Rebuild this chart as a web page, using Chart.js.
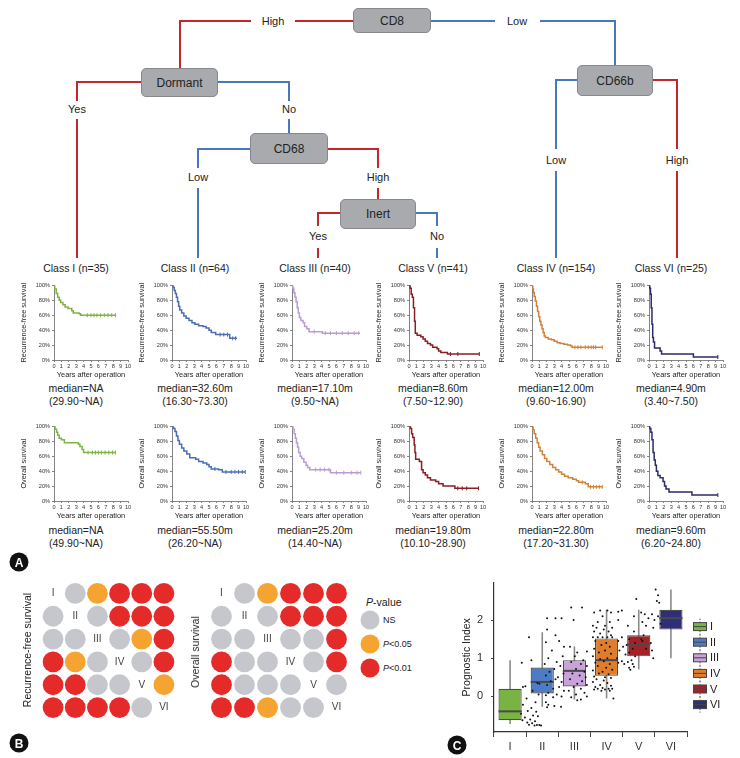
<!DOCTYPE html>
<html>
<head>
<meta charset="utf-8">
<script src="https://cdn.jsdelivr.net/npm/chart.js@4.4.0/dist/chart.umd.min.js"></script>
<style>
  body { margin: 0; background: #fff; width: 740px; height: 758px; position: relative; overflow: hidden;
         font-family: "Liberation Sans", Arial, sans-serif; color: #222; }
  canvas { position: absolute; }
  .node { position: absolute; background: #a8aaae; border: 1px solid #86888c; border-radius: 5px; box-sizing: border-box;
          display: flex; align-items: center; justify-content: center; font-size: 12px; color: #222;
          font-family: "Liberation Sans Narrow", "Liberation Sans", sans-serif; }
  .lbl { position: absolute; transform: translate(-50%, -50%); white-space: nowrap; font-size: 11px;
         font-family: "Liberation Sans Narrow", "Liberation Sans", sans-serif; }
  .cls { position: absolute; transform: translate(-50%, -50%); white-space: nowrap; font-size: 10.5px; }
  .med { position: absolute; transform: translateX(-50%); text-align: center; font-size: 10.5px; line-height: 12.5px; white-space: nowrap; }
  .rot { position: absolute; transform: translate(-50%, -50%) rotate(-90deg); white-space: nowrap; font-size: 10.5px; }
  .badge { position: absolute; width: 19px; height: 19px; border-radius: 50%; background: #111; color: #fff; font-weight: bold;
           font-size: 12px; display: flex; align-items: center; justify-content: center; transform: translate(-50%, -50%); }
  .leg { position: absolute; font-size: 9px; transform: translateY(-50%); white-space: nowrap; }
  .dot { position: absolute; width: 19px; height: 19px; border-radius: 50%; transform: translate(-50%, -50%); }
</style>
</head>
<body>
<script>
// ---- data ----
const classNames = ['Class I (n=35)', 'Class II (n=64)', 'Class III (n=40)', 'Class V (n=41)', 'Class IV (n=154)', 'Class VI (n=25)'];
const classColors = ['#7fb342', '#4a6db3', '#b99dd0', '#8c1d22', '#d0823a', '#2c2a6a'];

const rfsMedian = ['median=NA', 'median=32.60m', 'median=17.10m', 'median=8.60m', 'median=12.00m', 'median=4.90m'];
const rfsCI = ['(29.90~NA)', '(16.30~73.30)', '(9.50~NA)', '(7.50~12.90)', '(9.60~16.90)', '(3.40~7.50)'];
const osMedian = ['median=NA', 'median=55.50m', 'median=25.20m', 'median=19.80m', 'median=22.80m', 'median=9.60m'];
const osCI = ['(49.90~NA)', '(26.20~NA)', '(14.40~NA)', '(10.10~28.90)', '(17.20~31.30)', '(6.20~24.80)'];

// [years, survival %]
const rfsI = [[0,100],[0.1,95],[0.3,89],[0.5,84],[0.7,80],[0.9,77],[1.2,74],[1.5,71],[1.9,69],[2.4,66],[2.6,63],[3.4,62],[3.6,60],[8.3,60]];
const rfsII = [[0,100],[0.15,97],[0.3,93],[0.45,89],[0.6,84],[0.75,78],[0.9,72],[1.05,67],[1.3,63],[1.6,59],[1.9,56],[2.3,53],[2.7,50],[3.1,48],[3.6,46],[4.2,45],[4.6,43],[5.0,40],[5.3,37],[5.9,34],[7.8,29],[8.8,29]];
const rfsIII = [[0,100],[0.1,96],[0.25,90],[0.4,84],[0.55,78],[0.7,70],[0.85,63],[1.0,57],[1.2,53],[1.5,50],[1.7,45],[2.0,42],[2.3,38],[4.1,36],[9.2,36]];
const rfsV = [[0,100],[0.15,96],[0.3,88],[0.45,84],[0.6,70],[0.75,52],[0.85,36],[1.1,33],[1.6,31],[1.9,28],[2.2,25],[2.5,22],[2.9,20],[3.2,17],[3.8,15],[4.0,12],[4.3,10],[5.2,8],[9.5,8]];
const rfsIV = [[0,100],[0.1,95],[0.2,90],[0.3,85],[0.45,79],[0.6,72],[0.75,65],[0.9,58],[1.05,52],[1.2,47],[1.35,42],[1.5,37],[1.65,32],[1.8,30],[2.2,28],[2.6,27],[3.0,25],[3.4,23],[3.8,22],[4.3,21],[4.8,20],[5.2,19],[5.4,17],[9.5,17]];
const rfsVI = [[0,100],[0.1,96],[0.2,88],[0.3,70],[0.4,48],[0.5,30],[0.6,24],[0.75,16],[1.5,12],[1.7,8],[6.0,4],[9.3,4]];

const osI = [[0,100],[0.15,96],[0.35,92],[0.5,88],[0.7,84],[1.0,82],[1.4,78],[3.3,76],[3.5,73],[3.8,69],[4.0,65],[8.3,65]];
const osII = [[0,100],[0.2,97],[0.4,93],[0.6,87],[0.8,81],[1.0,76],[1.3,71],[1.6,67],[2.0,63],[2.4,58],[3.2,56],[3.6,53],[4.2,51],[4.7,49],[5.0,46],[5.3,43],[6.3,42],[6.8,39],[9.9,39]];
const osIII = [[0,100],[0.15,96],[0.3,90],[0.45,84],[0.6,78],[0.75,72],[0.9,65],[1.1,60],[1.3,57],[1.6,52],[1.9,48],[2.1,45],[2.4,42],[5.2,38],[9.3,38]];
const osV = [[0,100],[0.2,97],[0.35,90],[0.5,85],[0.7,75],[0.8,65],[0.9,56],[1.4,53],[1.7,42],[1.9,38],[2.2,35],[2.5,31],[2.9,28],[3.6,26],[4.0,23],[4.6,20],[6.2,17],[9.4,17]];
const osIV = [[0,100],[0.15,95],[0.3,90],[0.5,84],[0.7,78],[0.9,72],[1.1,67],[1.4,62],[1.7,57],[2.0,53],[2.4,49],[2.8,45],[3.2,42],[3.6,39],[4.0,36],[4.4,33],[4.9,31],[5.5,29],[6.0,27],[6.3,25],[7.2,23],[7.6,19],[9.5,19]];
const osVI = [[0,100],[0.1,97],[0.25,92],[0.4,82],[0.55,65],[0.7,55],[0.85,48],[1.0,40],[1.2,34],[1.5,31],[1.9,26],[2.1,20],[2.3,16],[2.7,12],[5.8,8],[9.3,8]];

// censored times (years)
const rfsCensor = [[4.5,5.0,5.4,5.8,6.3,6.8,7.3,7.8,8.3], [6.5,7.0,7.5,8.2,8.6], [3.0,4.5,5.2,6.0,6.8,7.6,8.4,9.0], [5.6,6.6,9.5], [5.8,6.2,6.6,7.2,7.6,8.0,8.3,8.6,9.5], [9.3]];
const osCensor = [[4.6,5.2,5.6,6.0,6.4,6.9,7.4,7.9,8.3], [5.8,7.3,8.0,8.5,9.0,9.5,9.9], [3.2,3.8,4.4,5.0,6.0,7.0,8.0,8.8,9.3], [6.6,7.2,7.8,9.4], [6.8,7.9,8.3,8.7,9.1,9.5], [9.3]];

// pairwise p-value matrices: n = NS, o = P<0.05, r = P<0.01, '' = diagonal
const romans = ['I', 'II', 'III', 'IV', 'V', 'VI'];
const rfsMatrix = [
  ['', 'n', 'o', 'r', 'r', 'r'],
  ['n', '', 'n', 'r', 'r', 'r'],
  ['n', 'n', '', 'n', 'o', 'r'],
  ['r', 'o', 'n', '', 'n', 'r'],
  ['r', 'r', 'n', 'n', '', 'o'],
  ['r', 'r', 'r', 'r', 'n', '']
];
const osMatrix = [
  ['', 'n', 'o', 'r', 'r', 'r'],
  ['n', '', 'n', 'r', 'r', 'r'],
  ['n', 'n', '', 'n', 'n', 'r'],
  ['r', 'n', 'n', '', 'n', 'r'],
  ['r', 'n', 'n', 'n', '', 'n'],
  ['r', 'r', 'o', 'n', 'n', '']
];

// prognostic index box plot (classes I..VI)
const boxColors = ['#79b443', '#4d7cc7', '#c9a2d9', '#e07d2c', '#a3222a', '#2f2e78'];
const boxLow = [-0.72, -0.27, -0.08, -0.05, 0.71, 1.0];
const boxQ1 = [-0.62, 0.08, 0.26, 0.54, 1.05, 1.75];
const boxMed = [-0.39, 0.38, 0.67, 0.95, 1.36, 2.05];
const boxQ3 = [0.2, 0.76, 0.95, 1.52, 1.6, 2.27];
const boxHigh = [0.95, 1.68, 1.31, 2.27, 2.27, 2.8];

// [jitter, index value]
const piI = [[-0.05,1.55],[-0.35,0.88],[0.05,0.95],[0.3,0.35],[0.38,0.33],[-0.3,0.25],[-0.2,0.27],[0.1,0.15],[0.35,0.05],[-0.15,-0.05],[0.22,-0.15],[-0.3,-0.22],[0.05,-0.3],[-0.1,-0.38],[0.25,-0.4],[-0.38,-0.45],[0.12,-0.5],[-0.22,-0.55],[0.32,-0.52],[0.0,-0.6],[-0.32,-0.62],[0.2,-0.65],[-0.12,-0.68],[0.08,-0.7],[0.28,-0.75],[0.38,-0.75],[0.18,-0.76],[-0.05,-0.74],[0.45,-0.76]];
const piII = [[-0.3,2.05],[0.05,2.05],[0.3,2.05],[-0.3,1.75],[0.05,1.6],[-0.35,1.42],[0.2,1.45],[0.4,1.3],[-0.1,1.2],[0.35,1.05],[-0.25,1.0],[0.1,0.9],[-0.4,0.85],[0.25,0.8],[0.0,0.72],[-0.2,0.65],[0.38,0.6],[-0.35,0.55],[0.15,0.5],[0.05,0.45],[-0.15,0.4],[0.3,0.38],[-0.3,0.3],[0.2,0.25],[-0.05,0.2],[0.4,0.15],[-0.25,0.1],[0.1,0.05],[0.3,0.0],[-0.35,0.03],[-0.05,-0.02],[-0.35,-0.15],[-0.25,-0.22],[-0.3,-0.28],[0.0,-0.25],[0.28,-0.27]];
const piIII = [[-0.3,2.33],[0.15,2.33],[-0.2,2.0],[-0.35,1.3],[-0.05,1.15],[0.35,1.18],[-0.15,1.05],[0.2,0.95],[-0.3,0.9],[0.1,0.85],[0.35,0.8],[-0.1,0.72],[0.25,0.65],[-0.25,0.6],[0.05,0.55],[0.3,0.5],[-0.35,0.45],[0.15,0.4],[-0.05,0.33],[0.35,0.3],[-0.2,0.25],[0.1,0.2],[-0.4,0.15],[0.25,0.1],[-0.1,0.05],[0.35,0.0],[-0.3,-0.02],[0.1,-0.08],[-0.05,-0.1]];
const piIV = [[-0.1,2.25],[0.2,2.25],[0.35,2.2],[-0.35,2.2],[0.0,2.1],[-0.2,1.95],[0.3,1.95],[-0.4,1.85],[0.1,1.85],[0.4,1.8],[-0.25,1.8],[0.05,1.75],[-0.35,1.7],[0.25,1.7],[-0.1,1.65],[0.35,1.6],[-0.4,1.55],[-0.2,1.55],[0.0,1.55],[0.2,1.55],[0.4,1.55],[-0.3,1.45],[0.15,1.4],[-0.05,1.35],[0.3,1.3],[-0.35,1.25],[0.1,1.2],[-0.15,1.15],[0.35,1.12],[-0.4,1.05],[0.2,1.0],[-0.1,0.98],[0.05,0.92],[-0.3,0.88],[0.3,0.85],[-0.2,0.8],[0.15,0.75],[0.4,0.7],[-0.4,0.68],[0.0,0.65],[-0.15,0.6],[0.25,0.58],[-0.35,0.52],[0.1,0.5],[0.35,0.48],[-0.25,0.45],[0.05,0.42],[-0.4,0.38],[0.2,0.35],[-0.1,0.3],[0.35,0.28],[-0.3,0.25],[0.0,0.22],[0.25,0.2],[-0.35,0.18],[-0.2,0.2],[0.1,0.18],[0.4,0.2],[-0.05,0.15],[0.3,0.15],[0.45,-0.05]];
const piV = [[-0.35,2.22],[-0.2,2.25],[0.4,2.55],[0.3,2.1],[-0.35,2.0],[0.05,1.85],[0.3,1.7],[-0.2,1.55],[0.1,1.5],[-0.35,1.45],[0.35,1.4],[0.0,1.35],[-0.15,1.3],[0.25,1.25],[-0.3,1.2],[0.1,1.15],[-0.05,1.1],[0.35,1.05],[-0.4,1.0],[0.2,0.95],[-0.2,0.92],[0.05,0.9],[-0.35,0.88],[0.25,0.85],[-0.1,0.85],[0.3,0.78],[0.1,0.75],[0.15,0.7]];
const piVI = [[0.2,2.8],[0.3,2.65],[0.25,2.5],[0.35,2.45],[-0.4,2.2],[-0.25,2.15],[0.05,2.15],[0.3,2.1],[-0.1,2.05],[0.15,2.0],[-0.35,1.95],[0.4,1.9],[-0.2,1.85],[0.1,1.8],[-0.3,1.6],[-0.4,1.5],[-0.35,1.45],[0.0,1.4],[-0.2,1.25],[0.05,1.2],[0.1,1.0]];

// ---- helpers ----
Chart.defaults.font.family = '"Liberation Sans", Arial, sans-serif';
Chart.defaults.color = '#222';

const RED = '#c1272d';
const BLUE = '#4a76be';

function el(cls, html, style) {
  const d = document.createElement('div');
  d.className = cls;
  d.innerHTML = html;
  Object.assign(d.style, style);
  document.body.appendChild(d);
  return d;
}
function hline(x1, x2, y, c) {
  el('', '', { position: 'absolute', left: x1 + 'px', top: (y - 1) + 'px', width: (x2 - x1) + 'px', height: '2px', background: c });
}
function vline(x, y1, y2, c) {
  el('', '', { position: 'absolute', left: (x - 1) + 'px', top: (y1 - 1) + 'px', width: '2px', height: (y2 - y1 + 2) + 'px', background: c });
}
function node(text, x, y, w, h) {
  el('node', text, { left: x + 'px', top: y + 'px', width: w + 'px', height: h + 'px' });
}
function label(text, x, y) {
  el('lbl', text, { left: x + 'px', top: y + 'px' });
}

// ---- decision tree ----
hline(180, 251, 21, RED); hline(295, 353, 21, RED); vline(180, 21, 68, RED);
hline(431, 495, 21, BLUE); hline(540, 615, 21, BLUE); vline(615, 21, 65, BLUE);
hline(77, 141, 82, RED); vline(77, 82, 100, RED); vline(77, 120, 257, RED);
hline(218, 289, 82, BLUE); vline(289, 82, 100, BLUE); vline(289, 120, 133, BLUE);
hline(198, 250, 149, BLUE); vline(198, 149, 167, BLUE); vline(198, 189, 257, BLUE);
hline(328, 378, 149, RED); vline(378, 149, 167, RED); vline(378, 189, 199, RED);
hline(318, 340, 213, RED); vline(318, 213, 225, RED); vline(318, 249, 257, RED);
hline(416, 437, 213, BLUE); vline(437, 213, 225, BLUE); vline(437, 249, 257, BLUE);
hline(556, 577, 80, BLUE); vline(556, 80, 148, BLUE); vline(556, 172, 257, BLUE);
hline(653, 677, 80, RED); vline(677, 80, 148, RED); vline(677, 172, 257, RED);

node('CD8', 353, 8, 78, 25);
node('Dormant', 141, 68, 77, 29);
node('CD68', 250, 133, 78, 31);
node('Inert', 340, 199, 76, 30);
node('CD66b', 577, 65, 76, 31);

label('High', 273, 21); label('Low', 517, 21);
label('Yes', 77, 109); label('No', 289, 109);
label('Low', 198, 177); label('High', 378, 177);
label('Yes', 318, 236); label('No', 437, 236);
label('Low', 556, 160); label('High', 677, 160);

// ---- Kaplan-Meier panels ----
const axisX = [54, 172, 292, 409, 532, 649];
const textX = [76, 195, 315, 433, 556, 671];
const rfsCurves = [rfsI, rfsII, rfsIII, rfsV, rfsIV, rfsVI];
const osCurves = [osI, osII, osIII, osV, osIV, osVI];

function stepAt(curve, t) {
  let v = curve[0][1];
  curve.forEach(p => { if (p[0] <= t) v = p[1]; });
  return v;
}

function kmChart(left, top, curve, censor, color, yTitle) {
  const cv = document.createElement('canvas');
  cv.width = 114;
  cv.height = 99;
  cv.style.left = (left - 34) + 'px';
  cv.style.top = (top - 4) + 'px';
  document.body.appendChild(cv);
  const axisStyle = { drawOnChartArea: false, tickLength: 2, color: '#666', lineWidth: 0.8 };
  new Chart(cv, {
    type: 'scatter',
    data: {
      datasets: [
        {
          type: 'line',
          data: curve.map(p => ({ x: p[0], y: p[1] })),
          stepped: true,
          borderColor: color,
          borderWidth: 1.5,
          pointRadius: 0,
          fill: false
        },
        {
          data: censor.map(t => ({ x: t, y: stepAt(curve, t) })),
          pointStyle: 'line',
          rotation: 90,
          pointRadius: 2,
          borderColor: color,
          borderWidth: 1
        }
      ]
    },
    options: {
      responsive: false,
      animation: false,
      events: [],
      layout: { padding: { top: 4, right: 6, left: 0, bottom: 0 } },
      plugins: { legend: { display: false }, tooltip: { enabled: false } },
      scales: {
        x: {
          type: 'linear', min: 0, max: 10,
          afterFit: s => { s.height = 19; },
          ticks: { stepSize: 1, font: { size: 5.6 }, color: '#333', padding: 1, maxRotation: 0, autoSkip: false },
          grid: axisStyle,
          border: { color: '#666', width: 0.8 },
          title: { display: true, text: 'Years after operation', font: { size: 7.4 }, color: '#222', padding: 0 }
        },
        y: {
          min: 0, max: 100,
          afterFit: s => { s.width = 34; },
          ticks: { stepSize: 20, callback: v => v + '%', font: { size: 5.6 }, color: '#333', padding: 2 },
          grid: axisStyle,
          border: { color: '#666', width: 0.8 },
          title: { display: true, text: yTitle, font: { size: 7.3 }, color: '#222', padding: 0 }
        }
      }
    }
  });
}

for (let i = 0; i < 6; i++) {
  el('cls', classNames[i], { left: textX[i] + 'px', top: '268px' });
  kmChart(axisX[i], 284, rfsCurves[i], rfsCensor[i], classColors[i], 'Recurrence-free survival');
  kmChart(axisX[i], 425, osCurves[i], osCensor[i], classColors[i], 'Overall survival');
  el('med', rfsMedian[i] + '<br>' + rfsCI[i], { left: textX[i] + 'px', top: '382px' });
  el('med', osMedian[i] + '<br>' + osCI[i], { left: textX[i] + 'px', top: '524px' });
}

// ---- panel B: p-value matrices ----
const pColors = { n: '#c5c7cc', o: '#f5a431', r: '#e52a2a' };

const diagLabels = {
  id: 'diagLabels',
  afterDatasetsDraw(chart) {
    const ctx = chart.ctx;
    const xs = chart.scales.x, ys = chart.scales.y;
    ctx.save();
    ctx.fillStyle = '#444';
    ctx.font = '10px "Liberation Sans Narrow", "Liberation Sans", sans-serif';
    ctx.textAlign = 'center';
    ctx.textBaseline = 'middle';
    romans.forEach((r, i) => ctx.fillText(r, xs.getPixelForValue(i + 1), ys.getPixelForValue(i + 1)));
    ctx.restore();
  }
};

function matrixChart(left, top, width, matrix) {
  const cv = document.createElement('canvas');
  cv.width = width + 24;
  cv.height = 161;
  cv.style.left = (left - 12) + 'px';
  cv.style.top = (top - 12) + 'px';
  document.body.appendChild(cv);
  const pts = [], cols = [];
  matrix.forEach((row, r) => row.forEach((v, c) => {
    if (v) { pts.push({ x: c + 1, y: r + 1 }); cols.push(pColors[v]); }
  }));
  new Chart(cv, {
    type: 'scatter',
    data: { datasets: [{ data: pts, pointRadius: 10.4, pointBackgroundColor: cols, pointBorderWidth: 0 }] },
    options: {
      responsive: false,
      animation: false,
      events: [],
      layout: { padding: 12 },
      plugins: { legend: { display: false }, tooltip: { enabled: false } },
      scales: {
        x: { display: false, min: 0.5, max: 6.5 },
        y: { display: false, min: 0.5, max: 6.5, reverse: true }
      }
    },
    plugins: [diagLabels]
  });
}

matrixChart(42, 582, 133, rfsMatrix);
matrixChart(210, 582, 138, osMatrix);

el('rot', 'Recurrence-free survival', { left: '27px', top: '650px' });
el('rot', 'Overall survival', { left: '195px', top: '652px' });

el('leg', '<i>P</i>-value', { left: '366px', top: '602px', fontSize: '10.5px' });
[['n', 'NS', 620], ['o', '<i>P</i>&lt;0.05', 644], ['r', '<i>P</i>&lt;0.01', 668]].forEach(d => {
  el('dot', '', { left: '370px', top: d[2] + 'px', background: pColors[d[0]] });
  el('leg', d[1], { left: '383px', top: d[2] + 'px' });
});

// ---- panel C: box plot ----
const piPoints = [piI, piII, piIII, piIV, piV, piVI];

const boxParts = {
  id: 'boxParts',
  beforeDatasetsDraw(chart) {
    const ctx = chart.ctx, xs = chart.scales.x, ys = chart.scales.y;
    ctx.save();
    ctx.strokeStyle = '#8a8a8a';
    ctx.lineWidth = 1.6;
    boxLow.forEach((lo, i) => {
      const x = xs.getPixelForValue(i);
      ctx.beginPath();
      ctx.moveTo(x, ys.getPixelForValue(lo));
      ctx.lineTo(x, ys.getPixelForValue(boxHigh[i]));
      ctx.stroke();
    });
    ctx.restore();
  },
  afterDatasetDraw(chart, args) {
    if (args.index !== 1) return;
    const ctx = chart.ctx, ys = chart.scales.y;
    const meta = chart.getDatasetMeta(1);
    ctx.save();
    ctx.strokeStyle = '#4a4a4a';
    ctx.lineWidth = 2;
    meta.data.forEach((bar, i) => {
      const y = ys.getPixelForValue(boxMed[i]);
      ctx.beginPath();
      ctx.moveTo(bar.x - bar.width / 2, y);
      ctx.lineTo(bar.x + bar.width / 2, y);
      ctx.stroke();
    });
    ctx.restore();
  },
  afterDraw(chart) {
    const ctx = chart.ctx, a = chart.chartArea;
    ctx.save();
    romans.forEach((r, i) => {
      const cx = a.right + 13, cy = a.top + 44 + i * 15.6;
      ctx.strokeStyle = '#555';
      ctx.lineWidth = 1;
      ctx.setLineDash([1.5, 1.5]);
      ctx.beginPath(); ctx.moveTo(cx, cy - 8); ctx.lineTo(cx, cy + 8); ctx.stroke();
      ctx.setLineDash([]);
      ctx.fillStyle = boxColors[i];
      ctx.fillRect(cx - 6.5, cy - 4, 13, 8);
      ctx.strokeStyle = '#444';
      ctx.strokeRect(cx - 6.5, cy - 4, 13, 8);
      ctx.beginPath(); ctx.moveTo(cx - 6.5, cy); ctx.lineTo(cx + 6.5, cy); ctx.stroke();
      ctx.fillStyle = '#222';
      ctx.font = '11px "Liberation Sans Narrow", "Liberation Sans", sans-serif';
      ctx.textBaseline = 'middle';
      ctx.fillText(r, cx + 10, cy + 0.5);
    });
    ctx.restore();
  }
};

const cvC = document.createElement('canvas');
cvC.width = 278;
cvC.height = 188;
cvC.style.left = '454px';
cvC.style.top = '568px';
document.body.appendChild(cvC);

const jitterData = [];
piPoints.forEach((list, i) => list.forEach(p => jitterData.push({ x: i + p[0], y: p[1] })));

new Chart(cvC, {
  type: 'bar',
  data: {
    labels: romans,
    datasets: [
      {
        type: 'scatter',
        xAxisID: 'xj',
        data: jitterData,
        pointRadius: 1,
        pointBackgroundColor: '#111',
        pointBorderWidth: 0,
        order: 1
      },
      {
        data: boxQ1.map((q, i) => [q, boxQ3[i]]),
        backgroundColor: boxColors,
        borderColor: '#4d4d4d',
        borderWidth: 1.2,
        borderSkipped: false,
        grouped: false,
        barPercentage: 0.72,
        categoryPercentage: 1,
        order: 2
      }
    ]
  },
  options: {
    responsive: false,
    animation: false,
    events: [],
    layout: { padding: { top: 4, right: 45, left: 0, bottom: 0 } },
    plugins: { legend: { display: false }, tooltip: { enabled: false } },
    scales: {
      x: {
        afterFit: s => { s.height = 24; },
        ticks: { font: { size: 11 }, color: '#333', padding: 3 },
        grid: { drawOnChartArea: false, tickLength: 5, color: '#444' },
        border: { color: '#333', width: 1.2 }
      },
      xj: { type: 'linear', display: false, min: -0.5, max: 5.5 },
      y: {
        min: -0.93, max: 2.98,
        afterFit: s => { s.width = 40; },
        afterBuildTicks: s => { s.ticks = [{ value: 0 }, { value: 1 }, { value: 2 }]; },
        ticks: { font: { size: 11 }, color: '#333', padding: 8 },
        grid: { drawOnChartArea: false, tickLength: 3, color: '#444' },
        border: { color: '#333', width: 1.2 },
        title: { display: true, text: 'Prognostic Index', font: { size: 10.5 }, color: '#222', padding: { top: 7, bottom: 0 } }
      }
    }
  },
  plugins: [boxParts]
});

// panel letters
el('badge', 'A', { left: '19px', top: '562px' });
el('badge', 'B', { left: '19px', top: '743px' });
el('badge', 'C', { left: '457px', top: '745px' });
</script>
</body>
</html>
